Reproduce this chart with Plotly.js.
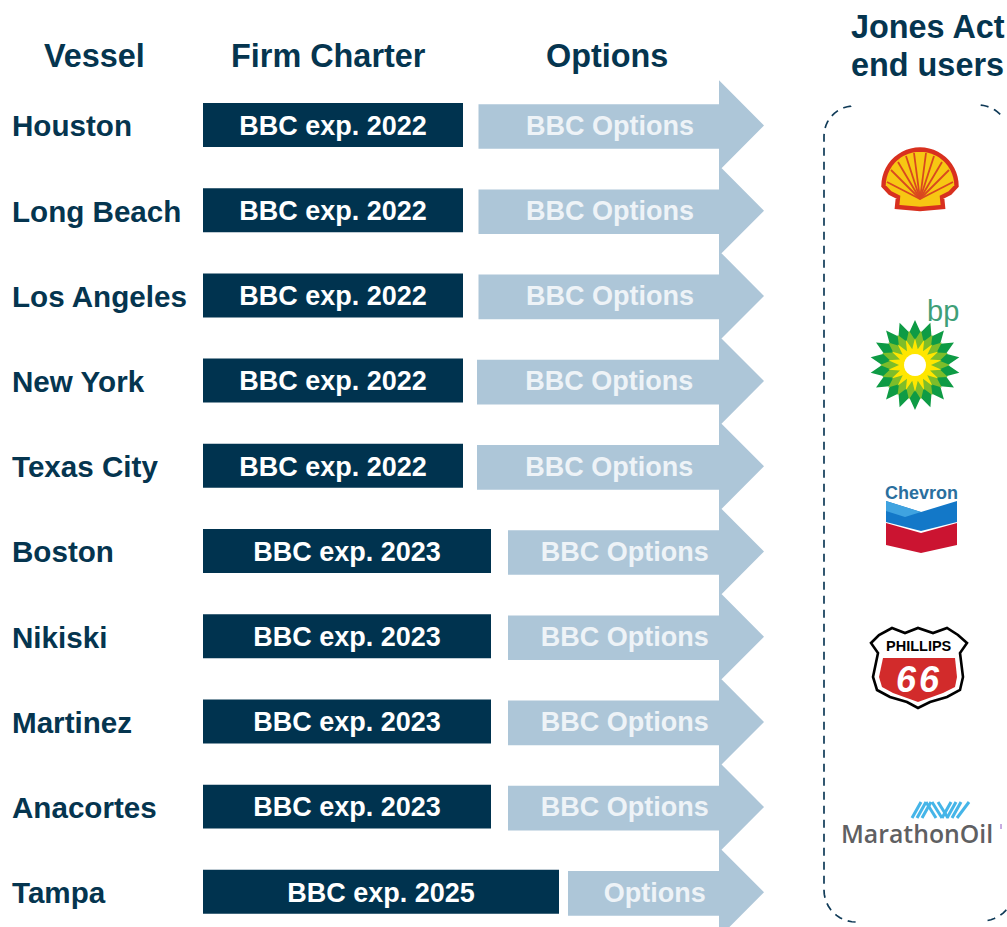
<!DOCTYPE html>
<html>
<head>
<meta charset="utf-8">
<script src="https://cdn.plot.ly/plotly-3.0.1.min.js"></script>
<style>html,body{margin:0;padding:0;background:#fff;overflow:hidden}#chart{width:1007px;height:927px}</style>
</head>
<body>
<div id="chart"></div>
<script>
const vessels = ["Houston","Long Beach","Los Angeles","New York","Texas City","Boston","Nikiski","Martinez","Anacortes","Tampa"];
const firmStart = [203,203,203,203,203,203,203,203,203,203];
const firmEnd = [463,463,463,463,463,491,491,491,491,559];
const firmLabels = ["BBC exp. 2022","BBC exp. 2022","BBC exp. 2022","BBC exp. 2022","BBC exp. 2022","BBC exp. 2023","BBC exp. 2023","BBC exp. 2023","BBC exp. 2023","BBC exp. 2025"];
const optionStart = [478.5,478.5,478.5,477,477,508,508,508,508,568];
const optionEnd = [719,719,719,719,719,719,719,719,719,719];
const arrowTip = [764,764,764,764,764,764,764,764,764,764];
const optionLabels = ["BBC Options","BBC Options","BBC Options","BBC Options","BBC Options","BBC Options","BBC Options","BBC Options","BBC Options","Options"];
const columnHeaders = ["Vessel","Firm Charter","Options"];
const endUserHeader = ["Jones Act","end users"];

const W = 1007, H = 927, NAVY = "#00334f", TEXT = "#05354f", LIGHT = "#adc6d8";
const FONT = '"Liberation Sans", Arial, sans-serif';
const px = x => x / W, py = y => 1 - y / H;
const rowIdx = vessels.map((v, i) => i);
const TEXT_SHIFT = 0.03;

const headX = [], headY = [];
rowIdx.forEach(i => {
  headX.push(optionEnd[i], arrowTip[i], optionEnd[i], null);
  headY.push(i - 0.53, i, i + 0.53, null);
});
const traces = [
  {type:"bar", orientation:"h", y:vessels, base:optionStart, x:optionEnd.map((e,i)=>e-optionStart[i]),
   width:0.524, offset:-0.25, marker:{color:LIGHT,line:{width:0}}, hoverinfo:"skip"},
  {type:"scatter", mode:"lines", yaxis:"y2", x:headX, y:headY, fill:"toself", fillcolor:LIGHT, line:{width:0,color:LIGHT}, hoverinfo:"skip"},
  {type:"bar", orientation:"h", y:vessels, base:firmStart, x:firmEnd.map((e,i)=>e-firmStart[i]),
   width:0.516, offset:-0.264, marker:{color:NAVY,line:{width:0}}, hoverinfo:"skip"},
  {type:"scatter", mode:"text", yaxis:"y2", x:firmEnd.map((e,i)=>(e+firmStart[i])/2), y:rowIdx.map(i=>i+TEXT_SHIFT), text:firmLabels.map(t=>"<b>"+t+"</b>"),
   textposition:"middle center", textfont:{family:FONT,size:27,color:"#ffffff"}, hoverinfo:"skip", cliponaxis:false},
  {type:"scatter", mode:"text", yaxis:"y2", x:optionStart.map((s,i)=>(s+(optionEnd[i]+arrowTip[i])/2)/2), y:rowIdx.map(i=>i+TEXT_SHIFT), text:optionLabels.map(t=>"<b>"+t+"</b>"),
   textposition:"middle center", textfont:{family:FONT,size:27,color:"#eef3f7"}, hoverinfo:"skip"},
  {type:"scatter", mode:"text", yaxis:"y2", x:vessels.map(()=>12), y:rowIdx.map(i=>i+TEXT_SHIFT+0.012), text:vessels.map(t=>"<b>"+t+"</b>"),
   textposition:"middle right", textfont:{family:FONT,size:29.6,color:TEXT}, hoverinfo:"skip"}
];

function pathOf(points, close){
  return "M" + points.map(p => px(p[0]) + "," + py(p[1])).join(" L") + (close ? " Z" : "");
}
const shapes = [];
function poly(points, fill, lineColor, lw){
  shapes.push({type:"path", xref:"paper", yref:"paper", path:pathOf(points,true), fillcolor:fill,
    line:{color:lineColor||fill, width:lw===undefined?0:lw}});
}
function polyline(points, color, width, dash){
  shapes.push({type:"path", xref:"paper", yref:"paper", path:pathOf(points,false),
    fillcolor:"rgba(0,0,0,0)", line:{color, width, dash:dash||"solid"}});
}
function arc(cx, cy, r, a0, a1, steps){
  const out = [];
  for(let k=0;k<=steps;k++){const a=(a0+(a1-a0)*k/steps)*Math.PI/180; out.push([cx+r*Math.cos(a), cy+r*Math.sin(a)]);}
  return out;
}
// dashed end-user bracket
const DASH = "8px,6px", BR = "#0f3a57";
polyline([[851,106],...arc(854,136,30,-96,-180,12),[824,890],...arc(856,890,32,180,90,12)], BR, 1.7, DASH);
polyline(arc(978,136,31,-85,-40,8), BR, 1.7, DASH);
polyline(arc(982,889,32,80,30,8), BR, 1.7, DASH);

// Shell emblem
const shellTop = arc(920,186,36.5,-180,0,26);
const shellOutline = [[897,207],[898,197],[890,193],...shellTop.filter(p=>p[1]<=186),[950,193],[942,197],[943,207],[920,209]];
poly(shellOutline, "#f7c713", "#d8301f", 4.4);
[[887,182],[891,170],[898,162],[906,156],[914,153],[926,153],[934,156],[942,162],[949,170],[953,182]].forEach(p=>{
  polyline([[920,199],p], "#d9481f", 1.8);
});

// BP helios
function star(cx, cy, R, r, count, rot){
  const pts=[];
  for(let k=0;k<count*2;k++){const a=(rot+k*180/count)*Math.PI/180, q=k%2?r:R; pts.push([cx+q*Math.cos(a),cy+q*Math.sin(a)]);}
  return pts;
}
poly(star(915,365,45,33,18,-90), "#0e9b45");
poly(star(915,365,35,25,18,-80), "#7dbd2a");
poly(star(915,365,27,16,18,-90), "#ffe600");
poly(arc(915,365,11,0,360,24), "#ffffff");

// Chevron
poly([[886,501],[921,512],[957,501],[957,522],[921,531],[886,522]], "#1378c8");
poly([[886,501],[921,512],[905,517],[886,511]], "#3fa3e0");
poly([[886,523],[921,533],[957,523],[957,545],[921,553],[886,545]], "#cb1431");

// Phillips 66
const shield = [[871,643],[879,635],[892,628],[905,633],[918,628],[933,633],[947,628],[958,635],[967,643],[960,653],[963,677],[960,690],[947,697],[930,702],[918,708],[907,702],[890,697],[877,690],[873,677],[878,653]];
poly(shield, "#ffffff", "#000000", 2.6);
poly([[883,658],[955,658],[957,677],[955,687],[943,693],[918,702],[893,693],[882,687],[879,677]], "#d22b2b");

// Marathon Oil ribbon
[[912,818,921,802],[917,818,926,802],[922,818,931,802],[926,802,936,818],[932,802,942,818],[938,802,948,818],[942,818,951,802],[947,818,956,802],[952,818,961,802],[957,818,969,802]].forEach(s=>{
  polyline([[s[0],s[1]],[s[2],s[3]]], "#45b5e8", 3);
});
polyline([[1001,824],[1001,829]], "#8e5bc4", 1);

const ann = (text,x,y,size,color,anchor,extra) => Object.assign({
  text, x:px(x), y:py(y), xref:"paper", yref:"paper", showarrow:false, xanchor:anchor||"center", yanchor:"middle",
  align:"left", font:{family:FONT,size,color}
}, extra||{});

const annotations = [
  ann("<b>"+columnHeaders[0]+"</b>",94,56,32.4,TEXT),
  ann("<b>"+columnHeaders[1]+"</b>",328,56,32.4,TEXT),
  ann("<b>"+columnHeaders[2]+"</b>",607,56,32.4,TEXT),
  ann("<b>"+endUserHeader[0]+"</b>",849,27,32.4,TEXT,"left"),
  ann("<b>"+endUserHeader[1]+"</b>",849,65,32.4,TEXT,"left"),
  ann("bp",943,311,29,"#3f9f78"),
  ann("<b>Chevron</b>",921,493,18,"#2a6f9e"),
  ann("<b>PHILLIPS</b>",919,646,14.5,"#000000"),
  ann("<b><i>6\u200a6</i></b>",918,679.5,36,"#ffffff"),
  ann("MarathonOil",917,833,25,"#5f6062",undefined,{font:{family:'"Open Sans","Liberation Sans",sans-serif',size:24.8,color:"#5f6062",weight:600}})
];

Plotly.newPlot("chart", traces, {
  width:W, height:H, margin:{l:0,r:0,t:0,b:0}, showlegend:false, barmode:"overlay",
  paper_bgcolor:"#ffffff", plot_bgcolor:"#ffffff",
  xaxis:{range:[0,W], visible:false, fixedrange:true},
  yaxis:{type:"category", categoryorder:"array", categoryarray:vessels, range:[9.407,-1.473], visible:false, fixedrange:true},
  yaxis2:{type:"linear", overlaying:"y", range:[9.407,-1.473], visible:false, fixedrange:true},
  shapes, annotations
}, {displayModeBar:false, staticPlot:true});
</script>
</body>
</html>
